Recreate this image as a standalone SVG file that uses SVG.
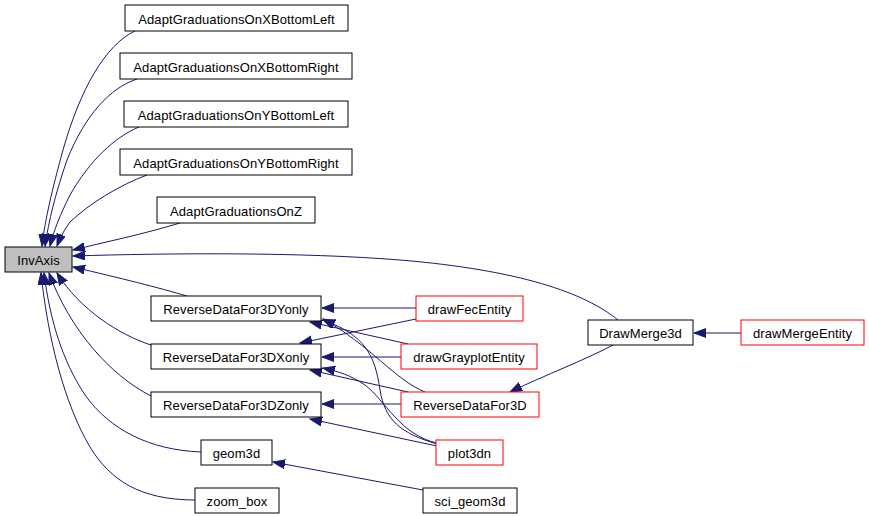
<svg xmlns="http://www.w3.org/2000/svg" width="869" height="517" viewBox="0 0 869 517">
<style>
.n rect{fill:#ffffff;stroke:#000000;stroke-width:1}
.n.r rect{stroke:#ff0000}
.n.g rect{fill:#bfbfbf}
.n text{font-family:"Liberation Sans",Arial,sans-serif;font-size:13px;fill:#000000;text-anchor:middle;letter-spacing:0.1px}
.e path{fill:none;stroke:#191970;stroke-width:1;marker-end:url(#a)}
</style>
<defs>
<marker id="a" markerWidth="14" markerHeight="11" refX="12" refY="4.5" orient="auto" markerUnits="userSpaceOnUse">
<path d="M0,0 L12,4.5 L0,9 z" fill="#191970" stroke="#191970" stroke-width="1"/>
</marker>
</defs>
<rect width="869" height="517" fill="#ffffff"/>
<g id="edges" class="e">
<path d="M135,31 C105,45 80,90 63,150 C52,190 45,220 42,246"/>
<path d="M137,79 C110,88 85,115 67,160 C55,195 49,220 45,246"/>
<path d="M139,127 C115,137 90,160 70,195 C60,215 54,230 50,246"/>
<path d="M147,175 C120,185 90,203 70,222 C64,230 60,238 57,246"/>
<path d="M180,223 C140,235 105,242 73,250"/>
<path d="M618,320 C585,293 520,270 400,260 C300,252 170,253 73,256"/>
<path d="M187,296 C160,288 120,278 73,267"/>
<path d="M151,345 C120,335 80,310 57,273"/>
<path d="M151,396 C110,375 70,330 49,273"/>
<path d="M201,452 C150,450 110,430 85,395 C62,360 50,320 44,273"/>
<path d="M195,500 C140,500 110,480 90,447 C65,405 48,340 41,273"/>
<path d="M416,308 L322,308"/>
<path d="M416,319 L300,343"/>
<path d="M401,357 L322,357"/>
<path d="M408,344 L310,322"/>
<path d="M401,404 L322,404"/>
<path d="M408,392 L310,370"/>
<path d="M425,392 C395,380 370,345 323,319"/>
<path d="M437,444 C400,433 385,420 380,390 C375,355 365,335 323,320"/>
<path d="M437,443 C400,435 385,400 365,385 C350,375 340,372 323,368"/>
<path d="M437,446 L310,419"/>
<path d="M423,490 L273,462"/>
<path d="M613,345 C585,360 545,375 510,392"/>
<path d="M741,333 L694,333"/>
</g>
<g id="InvAxis" class="n g"><rect x="5" y="247" width="67" height="25"/><text x="38.5" y="265">InvAxis</text></g>
<g id="AdaptGraduationsOnXBottomLeft" class="n"><rect x="125" y="5" width="223" height="26"/><text x="236.5" y="24">AdaptGraduationsOnXBottomLeft</text></g>
<g id="AdaptGraduationsOnXBottomRight" class="n"><rect x="120" y="53" width="232" height="26"/><text x="236" y="72">AdaptGraduationsOnXBottomRight</text></g>
<g id="AdaptGraduationsOnYBottomLeft" class="n"><rect x="124" y="101" width="224" height="26"/><text x="236" y="120">AdaptGraduationsOnYBottomLeft</text></g>
<g id="AdaptGraduationsOnYBottomRight" class="n"><rect x="120" y="149" width="232" height="26"/><text x="236" y="168">AdaptGraduationsOnYBottomRight</text></g>
<g id="AdaptGraduationsOnZ" class="n"><rect x="157" y="197" width="158" height="26"/><text x="236" y="216">AdaptGraduationsOnZ</text></g>
<g id="ReverseDataFor3DYonly" class="n"><rect x="151" y="296" width="170" height="25"/><text x="236" y="314">ReverseDataFor3DYonly</text></g>
<g id="ReverseDataFor3DXonly" class="n"><rect x="151" y="344" width="170" height="25"/><text x="236" y="362">ReverseDataFor3DXonly</text></g>
<g id="ReverseDataFor3DZonly" class="n"><rect x="151" y="392" width="170" height="25"/><text x="236" y="410">ReverseDataFor3DZonly</text></g>
<g id="geom3d" class="n"><rect x="201" y="440" width="71" height="25"/><text x="236.5" y="458">geom3d</text></g>
<g id="zoom_box" class="n"><rect x="195" y="488" width="84" height="25"/><text x="237" y="506">zoom_box</text></g>
<g id="drawFecEntity" class="n r"><rect x="416" y="296" width="107" height="25"/><text x="469.5" y="314">drawFecEntity</text></g>
<g id="drawGrayplotEntity" class="n r"><rect x="401" y="344" width="136" height="25"/><text x="469" y="362">drawGrayplotEntity</text></g>
<g id="ReverseDataFor3D" class="n r"><rect x="401" y="392" width="138" height="25"/><text x="470" y="410">ReverseDataFor3D</text></g>
<g id="plot3dn" class="n r"><rect x="436" y="440" width="67" height="25"/><text x="469.5" y="458">plot3dn</text></g>
<g id="sci_geom3d" class="n"><rect x="423" y="488" width="94" height="25"/><text x="470" y="506">sci_geom3d</text></g>
<g id="DrawMerge3d" class="n"><rect x="588" y="320" width="105" height="25"/><text x="640.5" y="338">DrawMerge3d</text></g>
<g id="drawMergeEntity" class="n r"><rect x="741" y="320" width="123" height="25"/><text x="802.5" y="338">drawMergeEntity</text></g>
</svg>
